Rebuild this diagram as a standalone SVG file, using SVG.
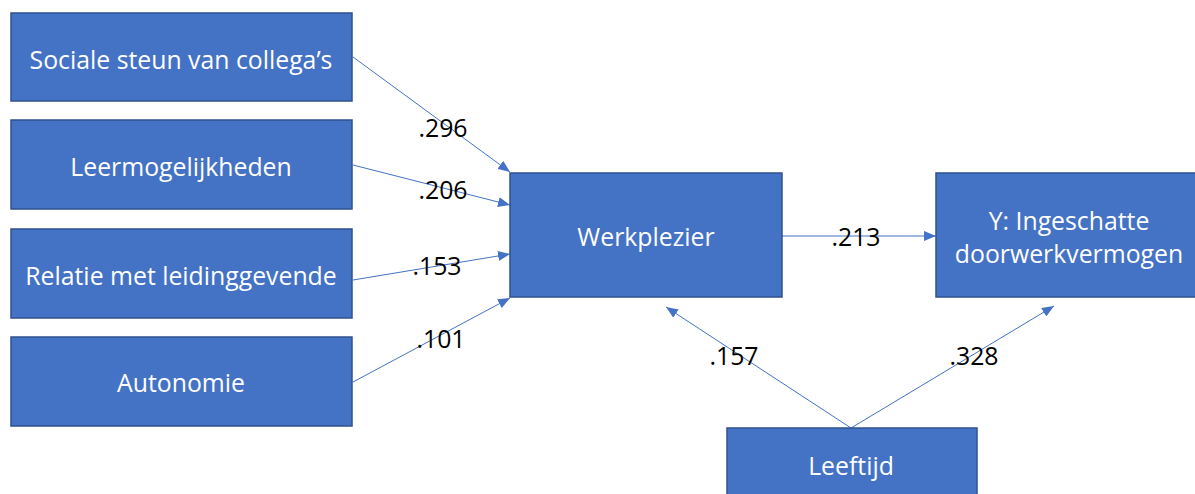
<svg xmlns="http://www.w3.org/2000/svg" width="1195" height="494" viewBox="0 0 1195 494">
  <style>
    .box { fill: #4472C4; stroke: #2F528F; stroke-width: 1.5; }
    .lbl { fill: #FFFFFF; font-family: "Open Sans", "Noto Sans", sans-serif; font-size: 24.8px; text-anchor: middle; dominant-baseline: central; }
    .coef { fill: #000000; font-family: "Open Sans", "Noto Sans", sans-serif; font-size: 24.8px; text-anchor: middle; dominant-baseline: central; }
    .edge { stroke: #4472C4; stroke-width: 1; fill: none; marker-end: url(#arrow); }
  </style>
  <defs>
    <marker id="arrow" viewBox="0 0 12 10" refX="12" refY="5" markerWidth="12" markerHeight="10" markerUnits="userSpaceOnUse" orient="auto">
      <path d="M0,0 L12,5 L0,10 Z" fill="#4472C4"/>
    </marker>
  </defs>
  <rect width="1195" height="494" fill="#FFFFFF"/>

  <g id="connectors">
    <line class="edge" x1="353" y1="57" x2="510" y2="172"/>
    <line class="edge" x1="353" y1="165" x2="510" y2="205"/>
    <line class="edge" x1="353" y1="280" x2="510" y2="254"/>
    <line class="edge" x1="353" y1="382" x2="510" y2="298"/>
    <line class="edge" x1="782" y1="236" x2="936" y2="236"/>
    <line class="edge" x1="851" y1="428" x2="666" y2="307"/>
    <line class="edge" x1="851" y1="428" x2="1054" y2="306"/>
  </g>

  <g id="coefficients">
    <text class="coef" x="443" y="127">.296</text>
    <text class="coef" x="443" y="189">.206</text>
    <text class="coef" x="437" y="265">.153</text>
    <text class="coef" x="441" y="338">.101</text>
    <text class="coef" x="856" y="236">.213</text>
    <text class="coef" x="734" y="355">.157</text>
    <text class="coef" x="974" y="355">.328</text>
  </g>

  <g id="sociale-steun">
    <rect class="box" x="11" y="13" width="341" height="88"/>
    <text class="lbl" x="181" y="59">Sociale steun van collega’s</text>
  </g>
  <g id="leermogelijkheden">
    <rect class="box" x="11" y="120" width="341" height="89"/>
    <text class="lbl" x="181" y="166">Leermogelijkheden</text>
  </g>
  <g id="relatie-leidinggevende">
    <rect class="box" x="11" y="229" width="341" height="89"/>
    <text class="lbl" x="181" y="275">Relatie met leidinggevende</text>
  </g>
  <g id="autonomie">
    <rect class="box" x="11" y="337" width="341" height="89"/>
    <text class="lbl" x="181" y="382">Autonomie</text>
  </g>
  <g id="werkplezier">
    <rect class="box" x="510" y="173" width="272" height="124"/>
    <text class="lbl" x="646" y="236">Werkplezier</text>
  </g>
  <g id="doorwerkvermogen">
    <rect class="box" x="936" y="173" width="262" height="124"/>
    <text class="lbl" x="1069" y="220">Y: Ingeschatte</text>
    <text class="lbl" x="1069" y="253">doorwerkvermogen</text>
  </g>
  <g id="leeftijd">
    <rect class="box" x="727" y="428" width="250" height="70"/>
    <text class="lbl" x="851" y="465">Leeftijd</text>
  </g>
</svg>
